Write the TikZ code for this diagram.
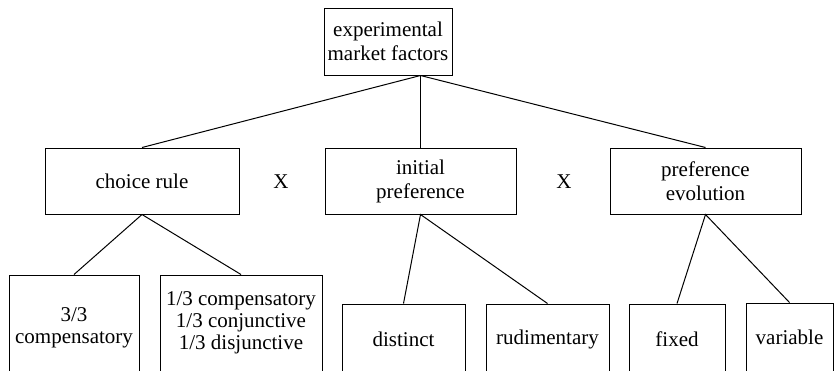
\documentclass[tikz,border=0pt]{standalone}
\usepackage{fontspec}
\setmainfont{Liberation Serif}
\begin{document}
\begin{tikzpicture}[x=0.5pt, y=-0.5pt,
        box/.style={draw, line width=0.5pt, inner sep=0pt, align=center,
            font=\fontsize{10.5}{12}\selectfont},
        level/.style={box, font=\fontsize{10.5}{11}\selectfont},
        link/.style={line width=0.5pt},
        times/.style={inner sep=0pt, font=\fontsize{10.5}{12}\selectfont}]
        % --- Khung hình ---
        \useasboundingbox (0,0) rectangle (834,370);
        \clip (0,0) rectangle (834,370);

        % --- Hộp gốc ---
        \node[box, minimum width=64pt, minimum height=33.5pt] (factors) at (388,41.5)
            {experimental\\market factors};

        % --- Ba nhân tố ---
        \node[box, minimum width=97pt, minimum height=33pt] (choice) at (142,181) {choice rule};
        \node[box, minimum width=95.5pt, minimum height=33pt] (initial) at (420.5,181)
            {initial\\preference};
        \node[box, minimum width=95.5pt, minimum height=33pt] (evolution) at (705.5,181)
            {preference\\evolution};

        \node[times] (times1) at (281,182) {X};
        \node[times] (times2) at (564,182) {X};

        % --- Các mức (hộp bị cắt ở mép dưới) ---
        \node[level, minimum width=65pt, minimum height=53pt] (full) at (74,328)
            {3/3\\compensatory};
        \node[level, minimum width=81pt, minimum height=48pt] (mixed) at (241,323)
            {1/3 compensatory\\1/3 conjunctive\\1/3 disjunctive};
        \node[level, minimum width=61.5pt, minimum height=35pt] (distinct) at (403.5,339) {distinct};
        \node[level, minimum width=61.5pt, minimum height=35pt] (rudimentary) at (547.5,339) {rudimentary};
        \node[level, minimum width=48pt, minimum height=35pt] (fixed) at (677,339) {fixed};
        \node[level, minimum width=43.5pt, minimum height=34pt] (variable) at (789.5,337) {variable};

        % --- Đường nối ---
        \coordinate (split) at (initial |- factors.south);
        \draw[link] (split) -- (choice.north);
        \draw[link] (split) -- (initial.north);
        \draw[link] (split) -- (evolution.north);

        \draw[link] (full.north) -- (choice.south) -- (mixed.north);
        \draw[link] (distinct.north) -- (initial.south) -- (rudimentary.north);
        \draw[link] (fixed.north) -- (evolution.south) -- (variable.north);
    \end{tikzpicture}
\end{document}
